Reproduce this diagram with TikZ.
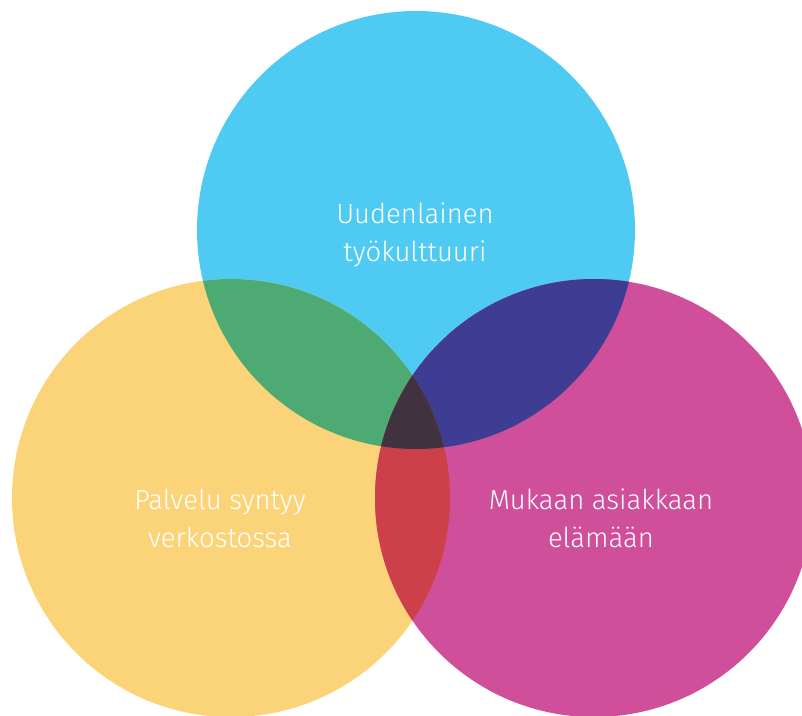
\documentclass[tikz,border=0pt]{standalone}
\usepackage{fontspec}
\setmainfont{Fira Sans Light}
\definecolor{cblue}{HTML}{4FCBF3}
\definecolor{cyellow}{HTML}{FBD47A}
\definecolor{cmag}{HTML}{CF4F9B}
\definecolor{cgreen}{HTML}{4CAA72}
\definecolor{cdblue}{HTML}{3F3C93}
\definecolor{cred}{HTML}{CD4049}
\definecolor{cdark}{HTML}{40333F}
\tikzset{
  lbl/.style={text=white, align=center, font=\fontsize{27.5}{38}\selectfont, inner sep=0pt}
}
\begin{document}
\begin{tikzpicture}[x=1pt,y=-1pt]
\useasboundingbox (0,0) rectangle (802,715);
\def\R{219}
\coordinate (B) at (416,230);
\coordinate (Y) at (231,498);
\coordinate (M) at (594,498);
\begin{scope}
\clip (0,0) rectangle (802,715);
\fill[cblue] (B) circle (\R);
\fill[cyellow] (Y) circle (\R);
\fill[cmag] (M) circle (\R);
\begin{scope}
\clip (B) circle (\R);
\fill[cgreen] (Y) circle (\R);
\fill[cdblue] (M) circle (\R);
\end{scope}
\begin{scope}
\clip (Y) circle (\R);
\fill[cred] (M) circle (\R);
\clip (M) circle (\R);
\fill[cdark] (B) circle (\R);
\end{scope}
\end{scope}
\node[lbl] (tb) at (415,235) {Uudenlainen\\työkulttuuri};
\node[lbl] (ty) at (220,518) {Palvelu syntyy\\verkostossa};
\node[lbl] (tm) at (601,518) {Mukaan asiakkaan\\elämään};
\end{tikzpicture}
\end{document}
